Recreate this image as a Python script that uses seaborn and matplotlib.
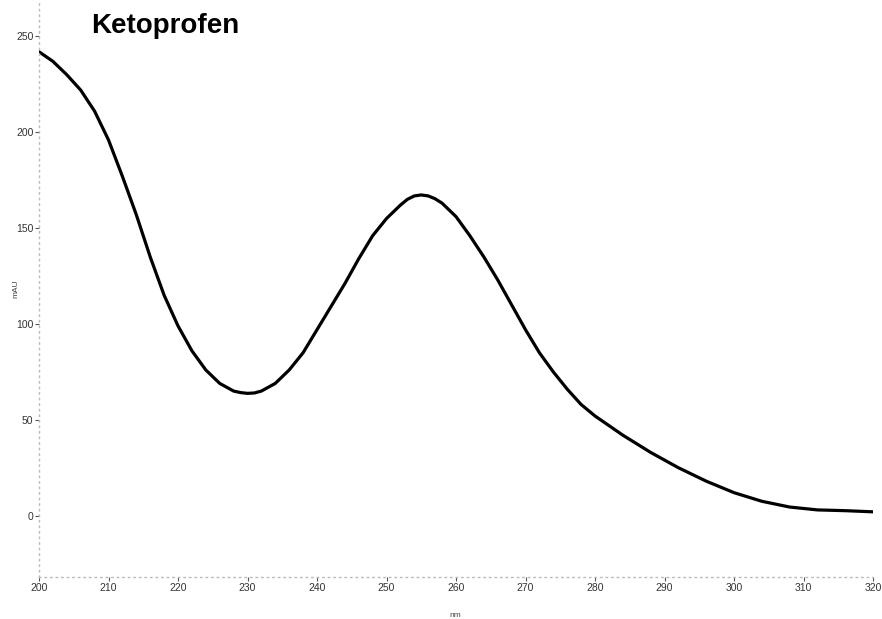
import numpy as np
import pandas as pd
import matplotlib
matplotlib.use("Agg")
import matplotlib.pyplot as plt
import seaborn as sns

# wavelength (nm) and absorbance (mAU)
wavelength = [200, 202, 204, 206, 208, 210, 212, 214, 216, 218, 220, 222, 224, 226, 228,
              229, 230, 231, 232, 234, 236, 238, 240, 242, 244, 246, 248, 250, 252, 253,
              254, 255, 256, 257, 258, 260, 262, 264, 266, 268, 270, 272, 274, 276, 278,
              280, 284, 288, 292, 296, 300, 304, 308, 312, 316, 320]
absorbance = [242, 237, 230, 222, 211, 196, 177, 157, 135, 115, 99, 86, 76, 69, 65,
              64.2, 63.8, 64, 65, 69, 76, 85, 97, 109, 121, 134, 146, 155, 162, 165,
              166.8, 167.3, 166.8, 165.3, 163, 156, 146, 135, 123, 110, 97, 85, 75, 66, 58,
              52, 42, 33, 25, 18, 12, 7.5, 4.5, 3, 2.6, 2]

x_ticks = [200, 210, 220, 230, 240, 250, 260, 270, 280, 290, 300, 310, 320]
y_ticks = [0, 50, 100, 150, 200, 250]

df = pd.DataFrame({'nm': wavelength, 'mAU': absorbance})

sns.set_style('white')
plt.rcParams['font.family'] = ['Liberation Sans', 'DejaVu Sans']

fig = plt.figure(figsize=(8.82, 6.19), dpi=100)
ax = fig.add_axes([39/882, 42/619, 834/882, 577/619])

sns.lineplot(data=df, x='nm', y='mAU', color='black', linewidth=2.3, ax=ax)
ax.lines[0].set_solid_joinstyle('round')
ax.lines[0].set_solid_capstyle('round')

ax.set_xlim(200, 320)
ax.set_ylim(-32, 269)
ax.set_xticks(x_ticks)
ax.set_yticks(y_ticks)
ax.tick_params(axis='both', labelsize=7.5, colors='#555555', labelcolor='#333333',
               length=3, width=0.8, direction='out', pad=1, bottom=True, left=True)

for side in ['top', 'right']:
    ax.spines[side].set_visible(False)
for side in ['left', 'bottom']:
    ax.spines[side].set_color('#bbbbbb')
    ax.spines[side].set_linestyle((0, (1, 3)))
    ax.spines[side].set_linewidth(1)

ax.set_xlabel('nm', fontsize=6, color='#444444')
ax.set_ylabel('mAU', fontsize=6, color='#444444')
ax.xaxis.set_label_coords(0.499, -0.061)
ax.yaxis.set_label_coords(-0.023, 0.5)

ax.text(0.063, 0.978, 'Ketoprofen', transform=ax.transAxes, fontsize=20,
        fontweight='bold', color='black', va='top', ha='left')

fig.savefig('out.png', dpi=100)
